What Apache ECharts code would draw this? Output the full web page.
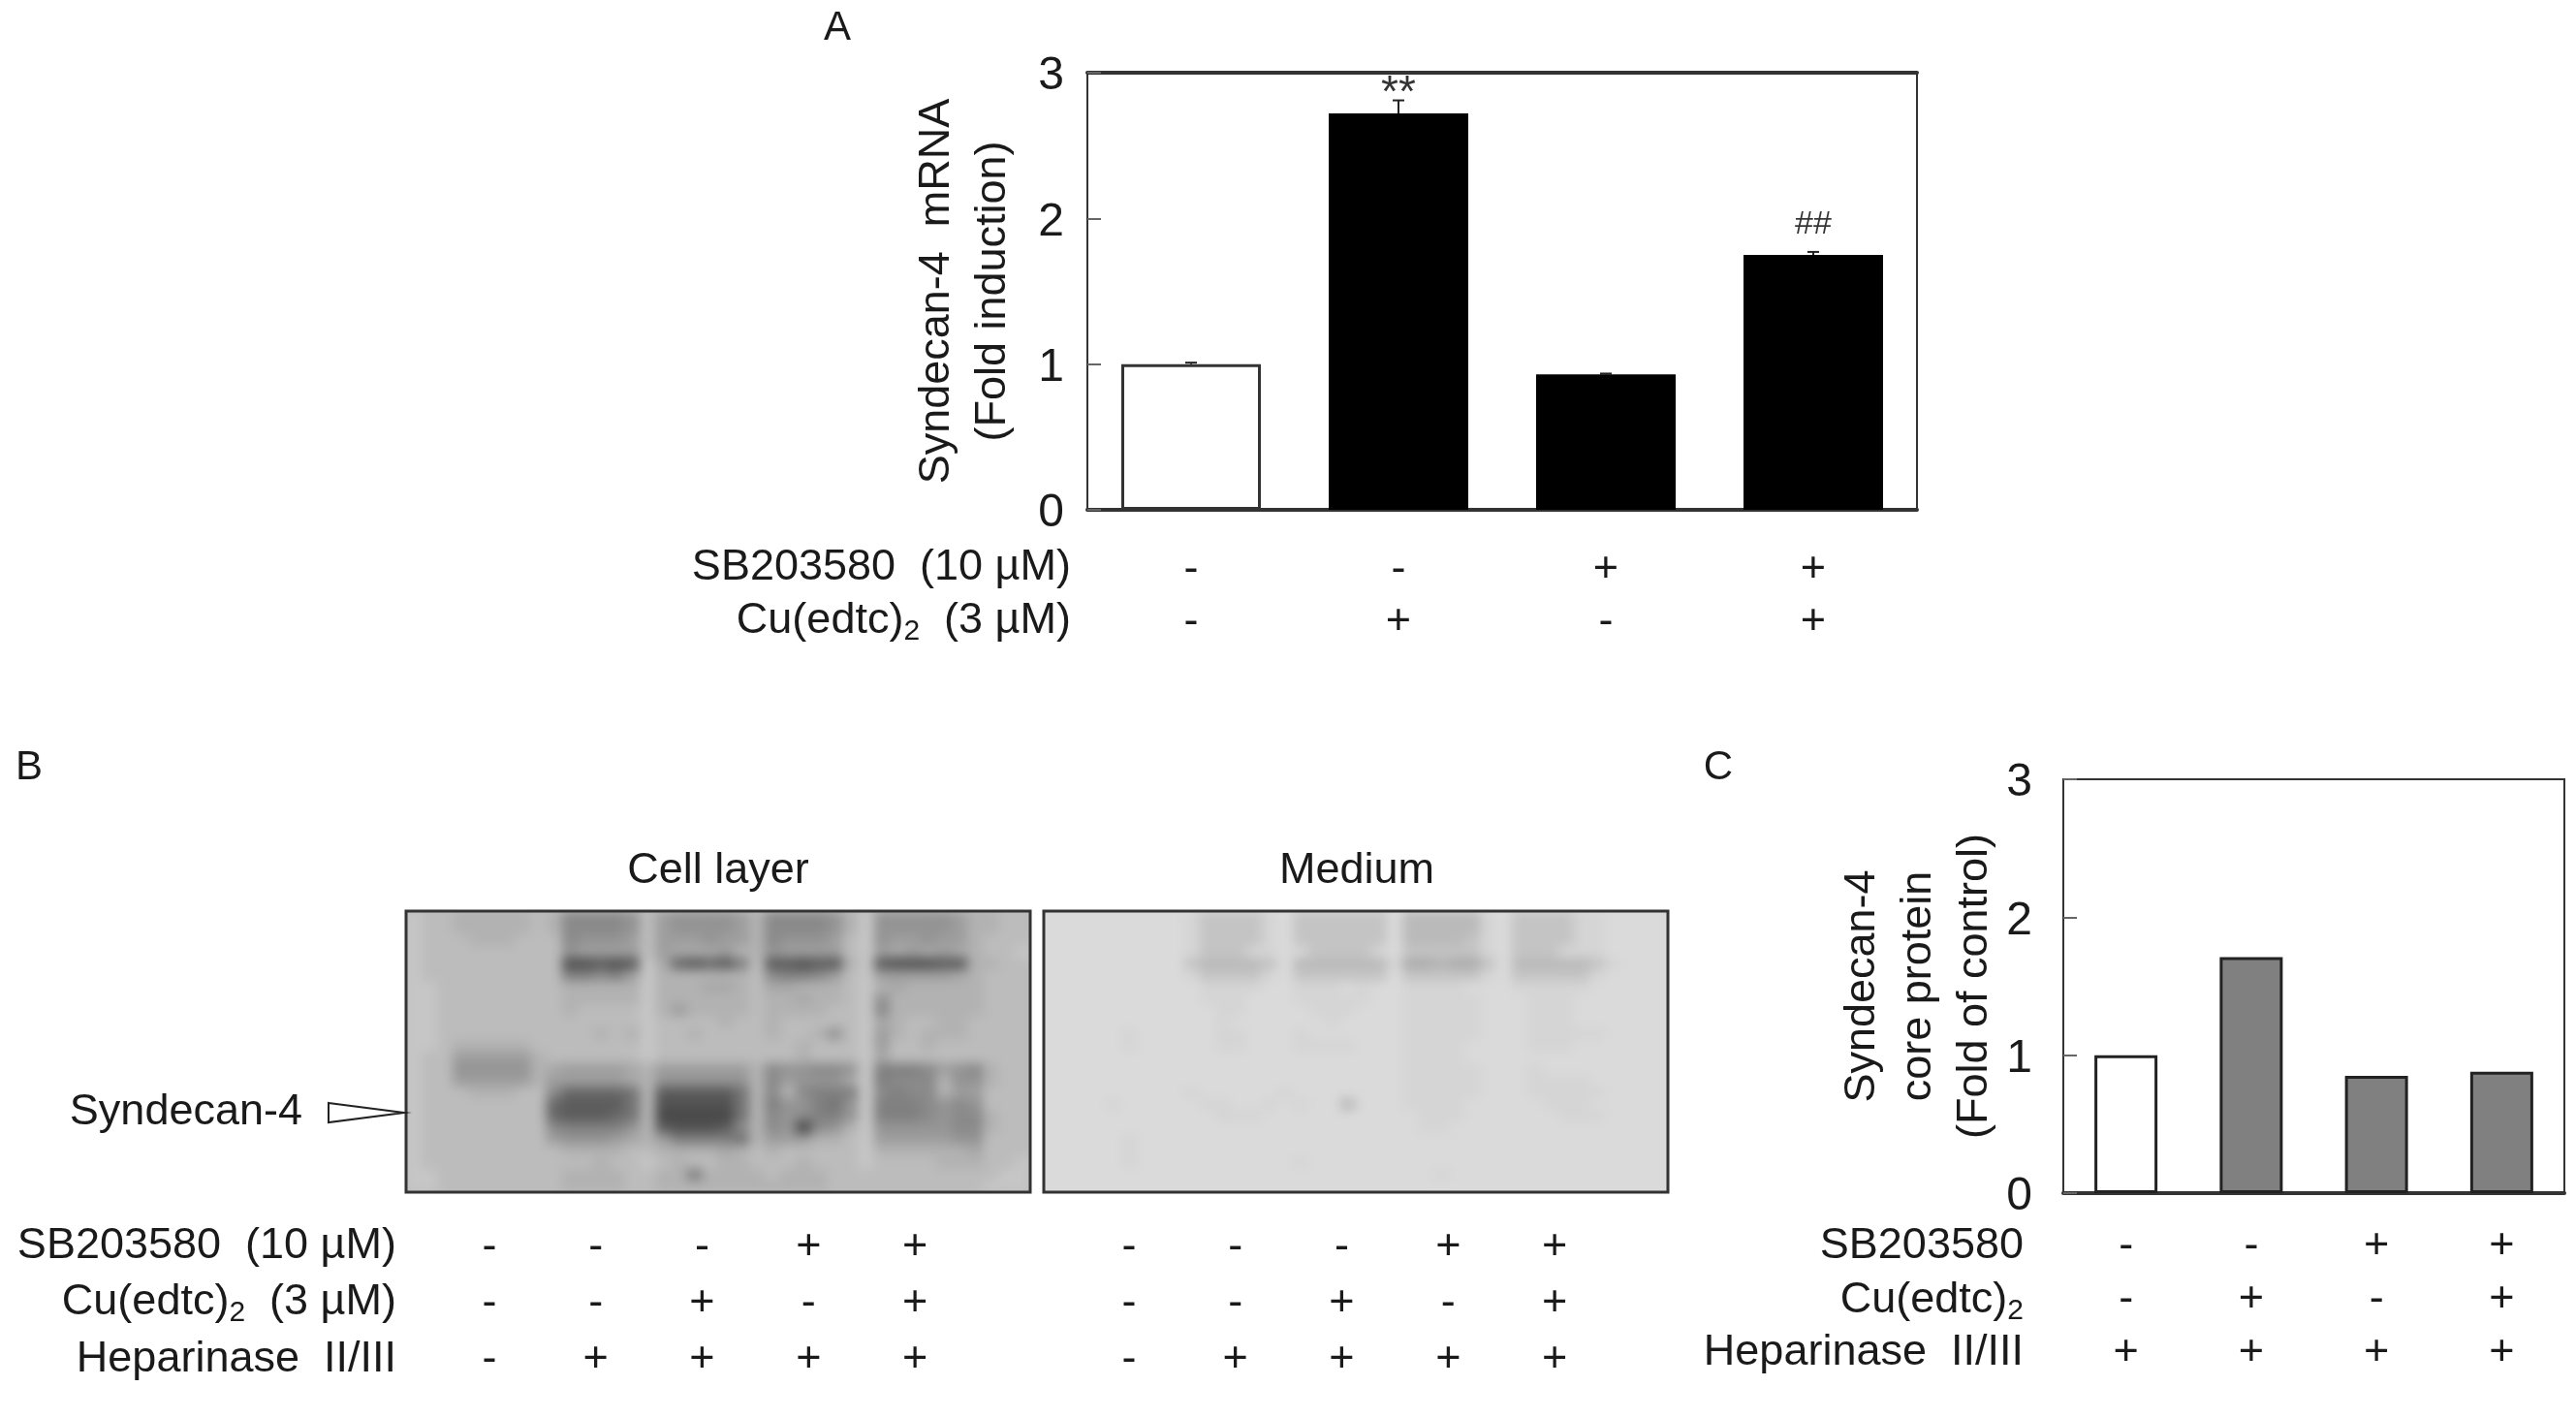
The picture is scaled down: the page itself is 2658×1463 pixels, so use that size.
<!DOCTYPE html>
<html>
<head>
<meta charset="utf-8">
<title>Syndecan-4</title>
<script src="https://cdn.jsdelivr.net/npm/echarts@6/dist/echarts.min.js"></script>
<style>
  html, body { margin: 0; padding: 0; background: #fff; }
  #stage { position: relative; width: 2658px; height: 1463px; overflow: hidden; }
  .blot { position: absolute; overflow: hidden; }
  .blot div.inner { position: absolute; filter: blur(6px); }
  #main { position: absolute; left: 0; top: 0; width: 2658px; height: 1463px; filter: blur(0.6px); }
</style>
</head>
<body>
<div id="stage">
  <div class="blot" id="cellClip" style="left:419px;top:940px;width:644px;height:290px"></div>
  <div class="blot" id="mediumClip" style="left:1077px;top:940px;width:644px;height:290px"></div>
  <div id="main"></div>
</div>
<script>
// panel A
const mrnaValues = [1.0, 2.72, 0.93, 1.75]
const mrnaErrors = [0.01, 0.09, 0.005, 0.02]
const mrnaMarks = ['', '{star|**}', '', '{hash|##}']
const mrnaMarkY = [null, 2.85, null, 1.96]
const sbRowA = ['-', '-', '+', '+']
const cuRowA = ['-', '+', '-', '+']

// panel C
const proteinValues = [1.0, 1.71, 0.85, 0.88]
const sbRowC = ['-', '-', '+', '+']
const cuRowC = ['-', '+', '-', '+']
const hepRowC = ['+', '+', '+', '+']

// panel B
const sbRowB = ['-', '-', '-', '+', '+']
const cuRowB = ['-', '-', '+', '-', '+']
const hepRowB = ['-', '+', '+', '+', '+']

// blot shading, one hex digit per cell (0 dark, f light)
const cellLayerRows = [
  'cbbaaaaaba' + '66667b8777' + '78a66667ac' + '777778aabb',
  'cbbaaaaaba' + '66667b8777' + '78a66667ac' + '777778aabb',
  'cbbbaaabbb' + '67778b8887' + '88a67778bc' + '788788abbb',
  'cbbbbbbbbb' + '78888b8999' + '8aa78888bc' + '898989abbc',
  'cbbbbbbbbb' + '11212c9323' + '25b22122ac' + '211122aabb',
  'cbbbbbbbbb' + '55658caaaa' + 'aab65568bc' + '888889abbb',
  'ccbbbbbbbb' + 'aaaaacaaa9' + '9ab99aaabc' + 'a9aaaaabbb',
  'ccbbbbbbbb' + 'aaaaacaaaa' + 'aabaa9aabc' + '7aaaaaabbb',
  'ccbbbbbbbb' + 'abbbbca8aa' + 'aabaaaabbc' + '6aaaaaabbb',
  'ccbbbbbbbb' + 'bbbbbcbbbb' + 'abbabbbbbc' + '9abbaabbbb',
  'ccbbbbbbbb' + 'bbabacbbab' + 'bbbabba7bc' + '8abaaabbbb',
  'ccbaaaaabb' + 'bbbbbcbbbb' + 'bbbbbabbbc' + '8bbabbbbbb',
  'cbb88888ab' + 'bbbbbcbbbb' + 'bbbbbabbbc' + '9bbbbbbbbb',
  'cbb77777a9' + '88889a8888' + '88a677667c' + '5556876abb',
  'cbb88888a8' + '88889a7777' + '77a687779c' + '5666a77abb',
  'cbbbaaabb6' + '33334a2222' + '24a6a6555c' + '6566a88bbb',
  'cbbbbbbbb3' + '22224a1111' + '14a577547c' + '5556767bbb',
  'cbbbbbbbb3' + '22234a0000' + '04a676557c' + '5556766abb',
  'cbbbbbbbb6' + '55557a2111' + '26a67067ac' + '7777766abb',
  'cbbbbbbbb8' + '77789a8555' + '54a888aabc' + '8888877bbb',
  'cbbbbbbbbb' + 'aaaabbaaaa' + '9ababbbbbc' + 'aaaaaa9bbb',
  'cbbbbbbbbb' + 'bbabbcbabb' + 'aabbbabbbc' + 'bbbbaaabbc',
  'ccbbbbbbbb' + 'aaaabbaa5a' + 'aaabaaabbb' + 'bbbbbbbbcc',
  'ccbbbbbbbb' + 'aaaabbaaaa' + 'aaaaaaabbb' + 'bbbbbbbccc'
]
const mediumRows = [
  'eeeeeeeeed' + 'ccccdecccc' + 'ccebbbbbde' + 'ccccddeeee',
  'eeeeeeeeed' + 'ccccdecccc' + 'ccebbbbbde' + 'ccccddeeee',
  'eeeeeeeeed' + 'ccccdecccc' + 'ccebbbbcde' + 'ccccddeeee',
  'eeeeeeeeed' + 'cccddedccc' + 'cdecccccde' + 'cccdddeeee',
  'eeeeeeeeec' + 'bbbbcebbbb' + 'bbd99a99ce' + 'bbbbbcdeee',
  'eeeeeeeeed' + 'ccccdecccc' + 'ccecccccde' + 'cccccdeeee',
  'eeeeeeeeee' + 'ddddeeddde' + 'deeddddeee' + 'dddddeeeee',
  'eeeeeeeeee' + 'dddeeedddd' + 'deedddddee' + 'edddeeeeee',
  'eeeeeeeeee' + 'eddeeeeddd' + 'eeedddddee' + 'edddeeeeee',
  'eeeeeeeeee' + 'edeeeeeede' + 'eeedddddee' + 'edddeeeeee',
  'eeeeedeeee' + 'eddeeedeee' + 'eeedddddee' + 'edddddeeee',
  'eeeeedeeee' + 'eddeeedddd' + 'eeeddddeee' + 'edddeeeeee',
  'eeeeeeeeee' + 'eeeeeeeeee' + 'eeeddddeee' + 'eeeeeeeeee',
  'eeeeeeeeee' + 'eeeeeeeeee' + 'eeedddddee' + 'edeeeeeeee',
  'eeeeeeeeee' + 'eeeeeeeeee' + 'eeedddddee' + 'eddddeeeee',
  'eeeeeeeeed' + 'eeeeedeeee' + 'eeedddddee' + 'edddddeeee',
  'eeeedeeeee' + 'ddeededeeb' + 'eeeddddeee' + 'eedddeeeee',
  'eeeeeeeeee' + 'edddeeeeee' + 'eeeedddeee' + 'eeedddeeee',
  'eeeeeeeeee' + 'eeeeeeeeee' + 'eeeeddeeee' + 'eeeeeeeeee',
  'eeeeedeeee' + 'eeeeeeeeee' + 'eeeeeeeeee' + 'eeeeeeeeee',
  'eeeeedeeee' + 'eeeeeeeeee' + 'eeeeeeeeee' + 'eeeeeeeeee',
  'eeeeedeeee' + 'eeeeeedeee' + 'eeeeeeeeee' + 'eeeeeeeeee',
  'eeeeeeeeee' + 'eeeeeeeeee' + 'eeeeedeeee' + 'eeeeeeeeee',
  'eeeeeeeeee' + 'eeeeeeeeee' + 'eeeeeeeeee' + 'eeeeeeeeee'
]

const FONT = '"Liberation Sans", Arial, sans-serif'
const TEXT = '#1a1a1a'
const LABEL_SIZE = 45
const BLOT_PAD = 20

// 16 stops, one per hex digit
const cellShades = ['#484848', '#525252', '#5c5c5c', '#686868', '#747474', '#808080', '#8a8a8a', '#949494',
  '#9e9e9e', '#a8a8a8', '#b2b2b2', '#bcbcbc', '#c6c6c6', '#d0d0d0', '#dadada', '#e0e0e0']
const mediumShades = ['#505050', '#585858', '#606060', '#686868', '#707070', '#787878', '#808080', '#888888',
  '#a0a0a0', '#acacac', '#b4b4b4', '#bababa', '#c4c4c4', '#d5d5d5', '#dadada', '#e0e0e0']

// the blots sit under the main chart in their own blurred instances
const drawBlot = (clipId, rows, background, shades) => {
  const clip = document.getElementById(clipId)
  const inner = document.createElement('div')
  inner.className = 'inner'
  const w = clip.offsetWidth + BLOT_PAD * 2
  const h = clip.offsetHeight + BLOT_PAD * 2
  inner.style.cssText = `left:${-BLOT_PAD}px;top:${-BLOT_PAD}px;width:${w}px;height:${h}px`
  clip.appendChild(inner)

  const cells = []
  rows.forEach((row, y) => {
    row.split('').forEach((digit, x) => cells.push([x, y, parseInt(digit, 16)]))
  })

  const chart = echarts.init(inner, null, { renderer: 'canvas' })
  chart.setOption({
    animation: false,
    backgroundColor: background,
    grid: { left: BLOT_PAD, right: BLOT_PAD, top: BLOT_PAD, bottom: BLOT_PAD },
    xAxis: { type: 'category', show: false, data: rows[0].split('').map((_, i) => i) },
    yAxis: { type: 'category', show: false, inverse: true, data: rows.map((_, i) => i) },
    visualMap: { show: false, min: 0, max: 15, inRange: { color: shades } },
    series: [{ type: 'heatmap', data: cells, progressive: 0 }]
  })
}
drawBlot('cellClip', cellLayerRows, '#bdbdbd', cellShades)
drawBlot('mediumClip', mediumRows, '#dcdcdc', mediumShades)

// one extra category axis per +/- row under a panel
const rowAxes = (gridIndex, rows, margin, step) => rows.map((row, i) => ({
  type: 'category',
  gridIndex,
  position: 'bottom',
  offset: i * step,
  data: row,
  axisLine: { show: false },
  axisTick: { show: false },
  axisLabel: {
    interval: 0,
    margin,
    fontFamily: FONT,
    fontSize: LABEL_SIZE,
    color: TEXT
  }
}))

const plotAxes = (gridIndex, data) => ({
  type: 'category',
  gridIndex,
  data,
  axisLine: { show: true, lineStyle: { color: '#333', width: 4 } },
  axisTick: { show: false },
  axisLabel: { show: false }
})

const valueAxis = (gridIndex, name, nameGap, margin) => ({
  type: 'value',
  gridIndex,
  min: 0,
  max: 3,
  interval: 1,
  name,
  nameLocation: 'middle',
  nameGap,
  nameRotate: 90,
  nameTextStyle: { fontFamily: FONT, fontSize: LABEL_SIZE, color: TEXT, lineHeight: 58 },
  axisLine: { show: false },
  axisTick: { show: true, inside: true, length: 14, lineStyle: { color: '#666', width: 2 } },
  splitLine: { show: false },
  axisLabel: {
    margin,
    formatter: '{t|{value}}',
    rich: { t: { fontFamily: FONT, fontSize: 48, color: TEXT, padding: [8, 0, 0, 0] } }
  }
})

const hiddenY = (gridIndex) => ({ type: 'value', gridIndex, show: false })

const rowLabel = (text, x, y) => ({
  type: 'text',
  x,
  y,
  style: {
    text,
    align: 'right',
    verticalAlign: 'middle',
    fontFamily: FONT,
    fontSize: LABEL_SIZE,
    fill: TEXT,
    rich: {
      n: { fontFamily: FONT, fontSize: LABEL_SIZE, fill: TEXT },
      s: { fontFamily: FONT, fontSize: 30, fill: TEXT, padding: [22, 0, 0, 0] }
    }
  }
})

const plainText = (text, x, y, fontSize) => ({
  type: 'text',
  x,
  y,
  style: {
    text,
    align: 'center',
    verticalAlign: 'middle',
    fontFamily: FONT,
    fontSize: fontSize || LABEL_SIZE,
    fill: TEXT
  }
})

const blotBox = (x, y, width, height) => ({
  type: 'rect',
  shape: { x, y, width, height },
  style: { fill: 'none', stroke: '#333', lineWidth: 3 }
})

const renderError = (params, api) => {
  const x = api.coord([api.value(0), api.value(1)])[0]
  const low = api.coord([api.value(0), api.value(1)])[1]
  const high = api.coord([api.value(0), api.value(1) + api.value(2)])[1]
  const style = { stroke: '#222', lineWidth: 2 }
  return {
    type: 'group',
    children: [
      { type: 'line', shape: { x1: x, y1: low, x2: x, y2: high }, style },
      { type: 'line', shape: { x1: x - 6, y1: high, x2: x + 6, y2: high }, style }
    ]
  }
}

const chart = echarts.init(document.getElementById('main'), null, { renderer: 'canvas' })

const option = {
  animation: false,
  backgroundColor: 'transparent',
  grid: [
    { left: 1122, top: 75, width: 856, height: 451, show: true, borderColor: '#333', borderWidth: 2 },
    { left: 2129, top: 804, width: 517, height: 427, show: true, borderColor: '#333', borderWidth: 2 },
    { left: 450, top: 1231, width: 549, height: 1 },
    { left: 1110, top: 1231, width: 549, height: 1 }
  ],
  xAxis: [
    plotAxes(0, sbRowA),
    { ...plotAxes(0, sbRowA), position: 'top' },
    ...rowAxes(0, [sbRowA, cuRowA], 39, 54),
    plotAxes(1, sbRowC),
    ...rowAxes(1, [sbRowC, cuRowC, hepRowC], 32, 55),
    ...rowAxes(2, [sbRowB, cuRowB, hepRowB], 32, 58),
    ...rowAxes(3, [sbRowB, cuRowB, hepRowB], 32, 58)
  ],
  yAxis: [
    valueAxis(0, 'Syndecan-4  mRNA\n(Fold induction)', 68, 24),
    valueAxis(1, 'Syndecan-4\ncore protein\n(Fold of control)', 57, 32),
    hiddenY(2),
    hiddenY(3)
  ],
  series: [
    {
      type: 'bar',
      xAxisIndex: 0,
      yAxisIndex: 0,
      barWidth: 144,
      data: mrnaValues.map((value, i) => ({
        value,
        itemStyle: i === 0
          ? { color: '#fff', borderColor: '#333', borderWidth: 3 }
          : { color: '#000' }
      }))
    },
    {
      type: 'custom',
      xAxisIndex: 0,
      yAxisIndex: 0,
      renderItem: renderError,
      data: mrnaValues.map((value, i) => [i, value, mrnaErrors[i]])
    },
    {
      type: 'scatter',
      xAxisIndex: 0,
      yAxisIndex: 0,
      symbolSize: 0,
      data: mrnaMarkY.map((y, i) => [i, y]).filter(d => d[1] !== null),
      label: {
        show: true,
        position: 'inside',
        formatter: (p) => mrnaMarks[p.data[0]],
        rich: {
          star: { fontFamily: FONT, fontSize: 46, color: '#000' },
          hash: { fontFamily: FONT, fontSize: 34, color: '#000' }
        }
      }
    },
    {
      type: 'bar',
      xAxisIndex: 4,
      yAxisIndex: 1,
      barWidth: 65,
      data: proteinValues.map((value, i) => ({
        value,
        itemStyle: {
          color: i === 0 ? '#fff' : '#808080',
          borderColor: '#222',
          borderWidth: 3
        }
      }))
    }
  ],
  graphic: [
    plainText('A', 864, 29, 42),
    plainText('B', 30, 792, 42),
    plainText('C', 1773, 792, 42),
    plainText('Cell layer', 741, 899),
    plainText('Medium', 1400, 899),
    blotBox(419, 940, 644, 290),
    blotBox(1077, 940, 644, 290),
    rowLabel('SB203580  (10 µM)', 1105, 586),
    rowLabel('{n|Cu(edtc)}{s|2}{n|  (3 µM)}', 1105, 641),
    rowLabel('SB203580  (10 µM)', 409, 1286),
    rowLabel('{n|Cu(edtc)}{s|2}{n|  (3 µM)}', 409, 1344),
    rowLabel('Heparinase  II/III', 409, 1403),
    rowLabel('SB203580', 2088, 1286),
    rowLabel('{n|Cu(edtc)}{s|2}', 2088, 1342),
    rowLabel('Heparinase  II/III', 2088, 1396),
    rowLabel('Syndecan-4', 312, 1148),
    {
      type: 'polygon',
      shape: { points: [[339, 1138], [417, 1148], [339, 1158]] },
      style: { fill: '#fff', stroke: '#222', lineWidth: 2 }
    }
  ]
}

chart.setOption(option)
</script>
</body>
</html>
